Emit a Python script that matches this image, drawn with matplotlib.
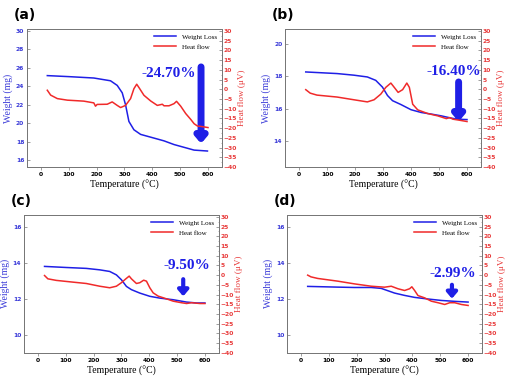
import matplotlib
matplotlib.use("Agg")
import matplotlib.pyplot as plt
from matplotlib.ticker import MultipleLocator

# ---------------- data ----------------
# (a)
Ta_w = [23, 100, 190, 250, 274, 292, 304, 316, 334, 358, 394, 442, 478, 514, 550, 598]
Wa = [25.16, 25.05, 24.9, 24.6, 24.1, 23.3, 22.0, 20.2, 19.3, 18.8, 18.5, 18.1, 17.7, 17.4, 17.1, 17.0]
Ta_h = [23, 35, 59, 95, 154, 190, 196, 202, 238, 256, 274, 286, 304, 322, 334, 344, 352, 370,
        394, 418, 436, 442, 460, 478, 487, 502, 520, 538, 550, 562, 574, 600]
Ha = [-0.5, -3, -4.8, -5.6, -6.1, -7, -8.7, -7.8, -7.7, -6.5, -8.3, -9.4, -8.3, -4.8, 0.3, 2.6, 0.9, -3.1,
      -6, -8.3, -7.7, -8.5, -8.5, -7.4, -6.2, -8.7, -12.5, -15.5, -17.7, -18.9, -19.1, -19.7]
# (b)
Tb_w = [24, 136, 196, 244, 274, 298, 316, 334, 364, 400, 436, 472, 508, 544, 568, 600]
Wb = [18.28, 18.18, 18.08, 17.97, 17.76, 17.34, 16.82, 16.5, 16.26, 15.94, 15.77, 15.67, 15.56, 15.42, 15.35, 15.33]
Tb_h = [24, 40, 64, 136, 196, 244, 268, 292, 310, 328, 340, 354, 370, 385, 394, 406, 424, 460, 496, 526, 538, 550, 568, 600]
Hb = [-0.2, -2, -3, -4, -5.4, -6.5, -5.4, -2.5, 1, 3.2, 1, -1.6, -0.2, 3.2, 1, -7.7, -10.6, -12.5, -13.7, -15.1, -14.6, -15.4, -15.8, -16.6]
# (c)
Tc_w = [24, 102, 174, 222, 258, 282, 300, 318, 336, 366, 402, 438, 486, 534, 570, 600]
Wc = [13.79, 13.73, 13.68, 13.6, 13.51, 13.32, 13.05, 12.68, 12.5, 12.31, 12.13, 12.03, 11.94, 11.81, 11.76, 11.76]
Tc_h = [24, 36, 66, 126, 174, 222, 258, 282, 300, 316, 328, 336, 354, 366, 380, 390, 402, 414, 432, 462, 486, 516, 534, 552, 582, 600]
Hc = [-0.2, -1.9, -2.7, -3.6, -4.3, -5.7, -6.5, -5.7, -3.9, -1.9, -0.5, -1.9, -4.3, -3.9, -2.6, -3.1, -6.5, -9.1, -10.8, -12.2, -13.4, -14.2, -14.6, -14.2, -14.6, -14.6]
# (d)
Td_w = [24, 132, 192, 252, 288, 312, 336, 372, 408, 456, 504, 552, 600]
Wd = [12.68, 12.64, 12.62, 12.62, 12.57, 12.44, 12.31, 12.18, 12.07, 11.98, 11.9, 11.85, 11.81]
Td_h = [24, 36, 60, 132, 192, 252, 300, 324, 348, 372, 390, 398, 408, 420, 444, 468, 492, 516, 534, 552, 576, 600]
Hd = [0, -0.9, -1.7, -3.1, -4.5, -5.7, -6.2, -5.7, -7, -7.9, -7, -6, -7.9, -10.5, -11.7, -13.4, -14.2, -15.1, -14.2, -14.2, -15.1, -15.6]

labels = ["(a)", "(b)", "(c)", "(d)"]
losses = ["-24.70%", "-16.40%", "-9.50%", "-2.99%"]
left_ticks = [[16, 18, 20, 22, 24, 26, 28, 30], [14, 16, 18, 20], [10, 12, 14, 16], [10, 12, 14, 16]]
right_ticks = list(range(-40, 31, 5))
x_ticks = [0, 100, 200, 300, 400, 500, 600]

panels = [
    dict(Tw=Ta_w, W=Wa, Th=Ta_h, H=Ha, pos=[0.053, 0.557, 0.383, 0.366], ylim=(15.27, 30.2),
         arrow=(575, 26.1, 17.8), text=(460, 25.4), aw=5),
    dict(Tw=Tb_w, W=Wb, Th=Tb_h, H=Hb, pos=[0.560, 0.557, 0.385, 0.366], ylim=(12.39, 20.94),
         arrow=(570, 17.66, 15.2), text=(552, 18.28), aw=5),
    dict(Tw=Tc_w, W=Wc, Th=Tc_h, H=Hc, pos=[0.047, 0.064, 0.383, 0.366], ylim=(8.99, 16.65),
         arrow=(522, 13.08, 12.13), text=(534, 13.82), aw=3),
    dict(Tw=Td_w, W=Wd, Th=Td_h, H=Hd, pos=[0.564, 0.064, 0.383, 0.366], ylim=(8.99, 16.65),
         arrow=(542, 12.77, 12.0), text=(546, 13.38), aw=3),
]

blue = "#1f1fe6"
red = "#f02a2a"
tblue = "#3a3ad8"
tred = "#e83a3a"
serif = "Liberation Serif"

fig = plt.figure(figsize=(5.09, 3.77), dpi=100)

for i, p in enumerate(panels):
    ax = fig.add_axes(p["pos"])
    ax2 = ax.twinx()
    l1, = ax.plot(p["Tw"], p["W"], color=blue, lw=1.1, label="Weight Loss")
    l2, = ax2.plot(p["Th"], p["H"], color=red, lw=1.1, label="Heat flow")
    ax.set_xlim(-50, 650)
    ax.set_ylim(*p["ylim"])
    ax2.set_ylim(-40, 31)
    ax.set_xticks(x_ticks)
    ax.set_yticks(left_ticks[i])
    ax2.set_yticks(right_ticks)
    ax2.yaxis.set_minor_locator(MultipleLocator(2.5))
    for a in (ax, ax2):
        for s in a.spines.values():
            s.set_color("#777777")
            s.set_linewidth(0.7)
    ax.tick_params(axis="x", direction="out", length=2, width=0.5, color="#777777", labelsize=4.3, pad=1.5)
    ax.tick_params(axis="y", direction="in", length=2, width=0.5, color="#777777", labelsize=4.3,
                   labelcolor=tblue, pad=2)
    ax2.tick_params(axis="y", which="major", direction="in", length=2, width=0.5, color="#777777",
                    labelsize=4.3, labelcolor=tred, pad=1.2)
    ax2.tick_params(axis="y", which="minor", direction="in", length=1, width=0.4, color="#777777")
    for t in ax.get_xticklabels() + ax.get_yticklabels() + ax2.get_yticklabels():
        t.set_fontweight("bold")
    ax.set_xlabel("Temperature (\u00b0C)", fontsize=7, family=serif, labelpad=2)
    ax.set_ylabel("Weight (mg)", fontsize=7, family=serif, color=tblue, labelpad=2)
    ax2.set_ylabel("Heat flow (\u03bcV)", fontsize=6.6, family=serif, color=tred, labelpad=1)
    ax.legend(handles=[l1, l2], loc="upper right", frameon=False,
              prop={"family": serif, "size": 5}, handlelength=3.2, borderaxespad=0.3,
              labelspacing=0.6)
    ax.text(-0.07, 1.10, labels[i], transform=ax.transAxes, fontsize=10, fontweight="bold",
            ha="left", va="center", family="DejaVu Sans")
    x, y0, y1 = p["arrow"]
    ax.annotate("", xy=(x, y1), xytext=(x, y0),
                arrowprops=dict(arrowstyle="-|>,head_length=0.35,head_width=0.3", color=blue,
                                lw=p["aw"], shrinkA=0, shrinkB=0))
    tx, ty = p["text"]
    ax.text(tx, ty, losses[i], color=blue, fontsize=11, fontweight="bold", family=serif,
            ha="center", va="center")

fig.savefig("out.png", dpi=100)
